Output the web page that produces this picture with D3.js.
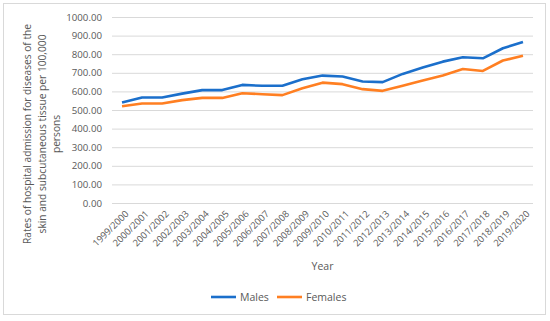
<!DOCTYPE html>
<html>
<head>
<meta charset="utf-8">
<script src="https://cdn.jsdelivr.net/npm/d3@7"></script>
<style>
  body { margin: 0; background: #fff; }
  text { font-family: "Open Sans", sans-serif; fill: #595959; }
</style>
</head>
<body>
<div id="chart"></div>
<script>
const years = ['1999/2000', '2000/2001', '2001/2002', '2002/2003', '2003/2004', '2004/2005',
    '2005/2006', '2006/2007', '2007/2008', '2008/2009', '2009/2010', '2010/2011', '2011/2012',
    '2012/2013', '2013/2014', '2014/2015', '2015/2016', '2016/2017', '2017/2018', '2018/2019',
    '2019/2020'];
const males = [540, 567, 567, 588, 607, 607, 635, 630, 630, 665, 685, 680, 653, 650, 694, 728,
    760, 784, 778, 832, 866];
const females = [520, 535, 535, 553, 565, 565, 590, 585, 580, 617, 647, 639, 612, 603, 631, 658,
    685, 720, 710, 766, 792];
const yTicks = [0, 100, 200, 300, 400, 500, 600, 700, 800, 900, 1000];

const W = 550, H = 321;
const margin = {top: 17, right: 17, bottom: 118, left: 112};
const width = W - margin.left - margin.right;
const height = H - margin.top - margin.bottom;

const root = d3.select('#chart')
    .append('svg')
    .attr('width', W)
    .attr('height', H);

// outer frame
root.append('rect')
    .attr('x', 3.5).attr('y', 3.5)
    .attr('width', 542).attr('height', 311)
    .attr('fill', 'none')
    .attr('stroke', '#d9d9d9');

const svg = root.append('g')
    .attr('transform', `translate(${margin.left},${margin.top})`);

const x = d3.scaleBand().domain(years).range([0, width]);
const y = d3.scaleLinear().domain([0, 1000]).range([height, 0]);

// gridlines + y labels
const yAxis = svg.append('g')
    .call(d3.axisLeft(y).tickValues(yTicks).tickSize(-width).tickPadding(10)
        .tickFormat(d3.format('.2f')));
yAxis.select('.domain').remove();
yAxis.selectAll('line').attr('stroke', '#d9d9d9');
yAxis.selectAll('text').style('font-size', '9.7px').attr('fill', '#595959');

// x labels
const xAxis = svg.append('g')
    .attr('transform', `translate(0,${height})`)
    .call(d3.axisBottom(x).tickSize(0).tickPadding(0));
xAxis.select('.domain').remove();
xAxis.selectAll('text')
    .style('font-size', '9.4px')
    .attr('fill', '#595959')
    .attr('text-anchor', 'end')
    .attr('dy', '0.35em')
    .attr('transform', 'translate(5,9) rotate(-45)');

// lines
const line = d3.line()
    .x((d, i) => x(years[i]) + x.bandwidth() / 2)
    .y(d => y(d));

const series = [
    {name: 'Males', values: males, color: '#1b6fcb'},
    {name: 'Females', values: females, color: '#ff7f22'}
];

series.forEach(s => {
    svg.append('path')
        .datum(s.values)
        .attr('fill', 'none')
        .attr('stroke', s.color)
        .attr('stroke-width', 2.6)
        .attr('stroke-linejoin', 'round')
        .attr('d', line);
});

// axis titles
root.append('text')
    .attr('x', margin.left + width / 2)
    .attr('y', 270)
    .attr('text-anchor', 'middle')
    .style('font-size', '10.5px')
    .text('Year');

const yTitle = ['Rates of hospital admission for diseases of the',
    'skin and subcutaneous tissue per 100,000',
    'persons'];
const yt = root.append('text')
    .attr('transform', 'translate(31,134) rotate(-90)')
    .attr('text-anchor', 'middle')
    .style('font-size', '10.2px');
yTitle.forEach((t, i) => {
    yt.append('tspan')
        .attr('x', 0)
        .attr('dy', i === 0 ? 0 : 14.5)
        .text(t);
});

// legend
const legend = root.append('g').attr('transform', 'translate(211,297)');
let lx = 0;
series.forEach(s => {
    const g = legend.append('g').attr('transform', `translate(${lx},0)`);
    g.append('line')
        .attr('x1', 0).attr('x2', 25)
        .attr('stroke', s.color)
        .attr('stroke-width', 2.6);
    g.append('text')
        .attr('x', 29)
        .attr('dy', '0.35em')
        .style('font-size', '10.5px')
        .text(s.name);
    lx += 66;
});
</script>
</body>
</html>
